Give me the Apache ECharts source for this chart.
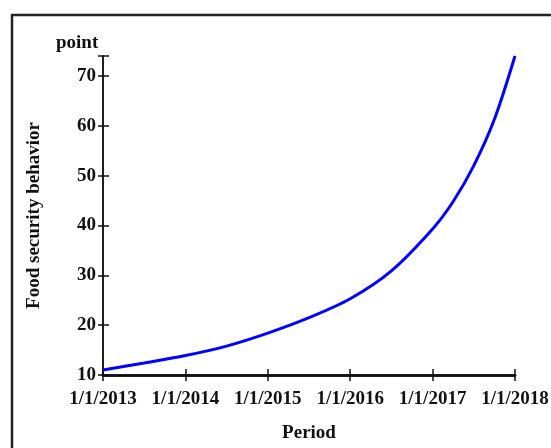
<!DOCTYPE html>
<html>
<head>
<meta charset="utf-8">
<script src="https://cdn.jsdelivr.net/npm/echarts@6/dist/echarts.min.js"></script>
<style>
  html, body { margin: 0; padding: 0; background: #fff; }
  #chart { width: 551px; height: 448px; }
</style>
</head>
<body>
<div id="chart"></div>
<script>
// time position in years
const periodYears = [2013, 2013.5, 2014, 2014.5, 2015, 2015.5, 2016, 2016.5, 2017, 2017.25, 2017.5, 2017.75, 2018];
const foodSecurity = [11, 12.4, 13.9, 15.8, 18.4, 21.5, 25.3, 30.9, 39.3, 44.8, 52, 61.3, 74];
const yTicks = [10, 20, 30, 40, 50, 60, 70];

const font = 'Liberation Serif';
const axisColor = '#111';

const chart = echarts.init(document.getElementById('chart'));

const baseX = {
  type: 'value',
  min: 2013,
  max: 2018,
  interval: 1,
  splitLine: { show: false },
  axisLine: { lineStyle: { color: axisColor, width: 2.5 } },
};
const baseY = {
  type: 'value',
  min: 10,
  max: 74,
  interval: 10,
  splitLine: { show: false },
  axisLine: { lineStyle: { color: axisColor, width: 1.5 } },
};

chart.setOption({
  animation: false,
  grid: { left: 103, right: 36, top: 56, bottom: 73, outerBoundsMode: 'none' },
  graphic: [{
    type: 'rect',
    shape: { x: 12, y: 15, width: 600, height: 500 },
    style: { fill: 'none', stroke: '#222', lineWidth: 2.5 },
    silent: true,
  }],
  xAxis: [
    Object.assign({}, baseX, {
      name: 'Period',
      nameLocation: 'middle',
      nameGap: 49,
      nameTextStyle: { fontFamily: font, fontWeight: 'bold', fontSize: 19, color: '#111' },
      axisTick: { length: 6, lineStyle: { color: axisColor, width: 1.5 } },
      axisLabel: {
        margin: 15,
        fontFamily: font, fontWeight: 'bold', fontSize: 19, color: '#111',
        formatter: v => '1/1/' + v,
      },
    }),
    Object.assign({}, baseX, {
      position: 'bottom',
      axisTick: { inside: true, length: 6, lineStyle: { color: axisColor, width: 1.5 } },
      axisLabel: { show: false },
    }),
  ],
  yAxis: [
    Object.assign({}, baseY, {
      name: 'Food security behavior',
      nameLocation: 'middle',
      nameGap: 59,
      nameTextStyle: { fontFamily: font, fontWeight: 'bold', fontSize: 19, color: '#111' },
      axisTick: { length: 5, lineStyle: { color: axisColor, width: 1.5 } },
      axisLabel: {
        margin: 7,
        fontFamily: font, fontWeight: 'bold', fontSize: 19, color: '#111',
        customValues: yTicks,
      },
    }),
    Object.assign({}, baseY, {
      position: 'left',
      axisTick: { inside: true, length: 6, lineStyle: { color: axisColor, width: 1.5 } },
      axisLabel: { show: false },
    }),
  ],
  title: {
    text: 'point',
    left: 51,
    top: 29,
    textStyle: { fontFamily: font, fontWeight: 'bold', fontSize: 19, color: '#111' },
  },
  series: [{
    type: 'line',
    smooth: 0.3,
    showSymbol: false,
    data: periodYears.map((y, i) => [y, foodSecurity[i]]),
    lineStyle: { color: '#0000ff', width: 3 },
    itemStyle: { color: '#0000ff' },
  }],
});
</script>
</body>
</html>
